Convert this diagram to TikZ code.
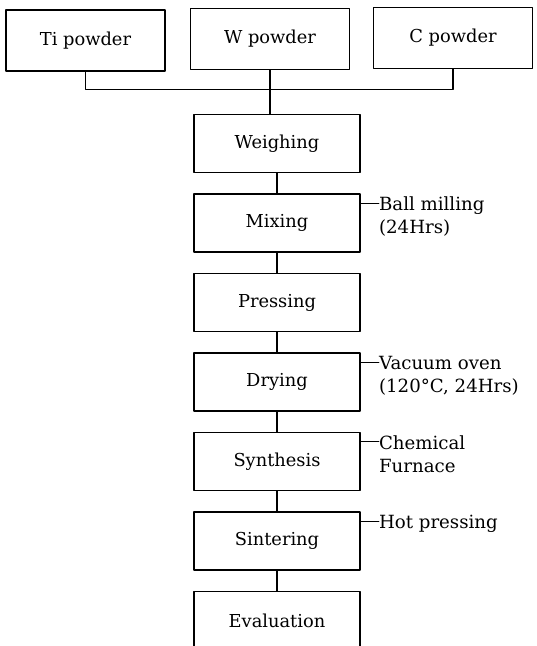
\documentclass[tikz,border=0pt]{standalone}
\usepackage{fontspec}
\setmainfont{DejaVu Serif}
\usetikzlibrary{positioning,calc}
\tikzset{
    every picture/.style={line cap=round,line join=round},
    stepbox/.style={draw=black,line width=0.9pt,
      minimum width=99.6pt,minimum height=34.8pt,inner sep=2pt,
      font=\fontsize{10.7}{12}\selectfont},
    rawbox/.style={stepbox,minimum width=95.4pt,minimum height=36.6pt},
    link/.style={draw=black,line width=0.7pt},
    sidenote/.style={anchor=north west,inner sep=0pt,align=left,
      font=\fontsize{10.9}{13.8}\selectfont}
}

\begin{document}
\begin{tikzpicture}[x=0.6pt,y=-0.6pt,node distance=12pt]
  \useasboundingbox (0,0) rectangle (537,646);
  \clip (0,0) rectangle (537,646);
  % raw powders
  \node[rawbox] (ti) at (85.5,40.5) {Ti powder};
  \node[rawbox] (w) at (270,39) {W powder};
  \node[rawbox] (c) at (453,38) {C powder};
  % process chain
  \node[stepbox] (weigh) at (277,143.5) {Weighing};
  \node[stepbox,below=of weigh] (mix) {Mixing};
  \node[stepbox,below=of mix] (press) {Pressing};
  \node[stepbox,below=of press] (dry) {Drying};
  \node[stepbox,below=of dry] (syn) {Synthesis};
  \node[stepbox,below=of syn] (sint) {Sintering};
  \node[stepbox,below=of sint] (eval) {Evaluation};
  % joining the powders
  \coordinate (bus) at ($(w.south)+(0,19)$);
  \draw[link] (ti.south) |- (bus) -| (c.south);
  \draw[link] (w.south) -- (w.south |- weigh.north);
  \foreach \a/\b in {weigh/mix,mix/press,press/dry,dry/syn,syn/sint,sint/eval} {
    \draw[link] (\a.south) -- (\b.north);
  }
  % conditions of each step
  \foreach \s/\t in {mix/{Ball milling\\(24Hrs)},
                     dry/{Vacuum oven\\(120°C, 24Hrs)},
                     syn/{Chemical\\Furnace},
                     sint/{Hot pressing}} {
    \coordinate (\s-tap) at ($(\s.north east)+(0,10)$);
    \node[sidenote] (\s-note) at ($(\s-tap)+(18,-6.5)$) {\t};
    \draw[link] (\s-tap) -- (\s-note.west |- \s-tap);
  }
\end{tikzpicture}
\end{document}
